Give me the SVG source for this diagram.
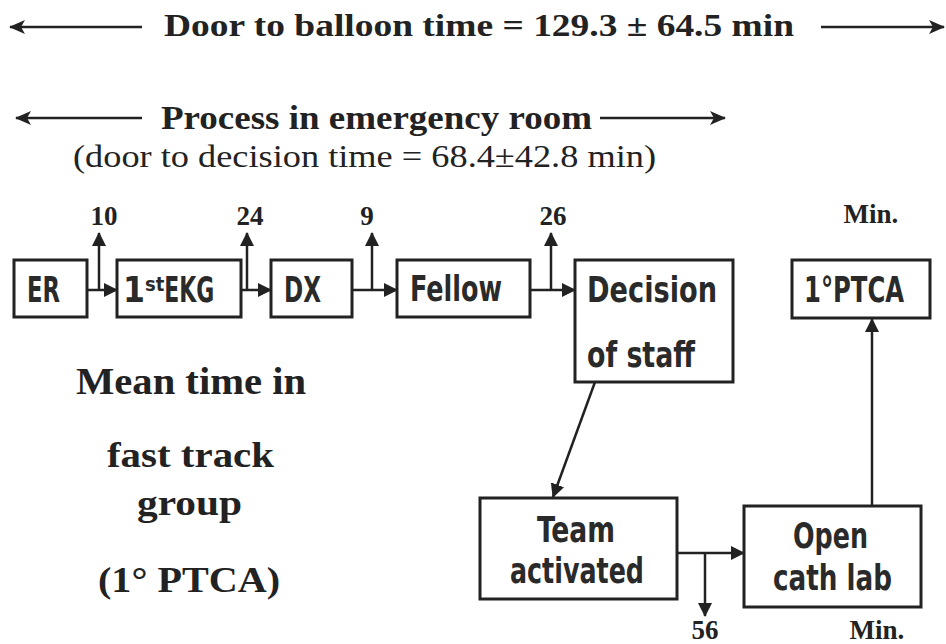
<svg xmlns="http://www.w3.org/2000/svg" width="946" height="644" viewBox="0 0 946 644">
<defs>
<marker id="ah" viewBox="0 0 16 14" refX="15" refY="7" markerWidth="16" markerHeight="14" markerUnits="userSpaceOnUse" orient="auto">
<polygon points="0,0 16,7 0,14 4,7" fill="#222"/>
</marker>
<marker id="ah2" viewBox="0 0 14 14" refX="13" refY="7" markerWidth="14" markerHeight="14" markerUnits="userSpaceOnUse" orient="auto">
<polygon points="0,0 14,7 0,14" fill="#222"/>
</marker>
</defs>
<style>
.ser{font-family:"Liberation Serif","Times New Roman",serif;fill:#222}
.b{font-weight:bold}
.lbl{font-family:"Liberation Sans Narrow","DejaVu Sans Condensed","Liberation Sans",sans-serif;font-weight:bold;font-size:35px;fill:#2a2a2a}
.box{fill:#fff;stroke:#222;stroke-width:3}
.ln{stroke:#222;stroke-width:2.5;fill:none}
.num{font-family:"Liberation Serif","Times New Roman",serif;font-weight:bold;font-size:27px;fill:#222;text-anchor:middle}
</style>
<rect width="946" height="644" fill="#fff"/>

<g id="headers">
<line class="ln" x1="142" y1="27" x2="10" y2="27" marker-end="url(#ah)"/>
<text class="ser b" x="164" y="36" font-size="32" textLength="630" lengthAdjust="spacingAndGlyphs">Door to  balloon time = 129.3 ±  64.5 min</text>
<line class="ln" x1="821" y1="27" x2="944" y2="27" marker-end="url(#ah)"/>
<line class="ln" x1="142" y1="118" x2="16" y2="118" marker-end="url(#ah)"/>
<text class="ser b" x="161" y="129" font-size="34" textLength="431" lengthAdjust="spacingAndGlyphs">Process in emergency room</text>
<line class="ln" x1="600" y1="118" x2="725" y2="118" marker-end="url(#ah)"/>
<text class="ser" x="73" y="167" font-size="32" textLength="583" lengthAdjust="spacingAndGlyphs">(door to decision time = 68.4±42.8 min)</text>
</g>

<g id="side-text">
<text class="ser b" x="76" y="394" font-size="38" textLength="230" lengthAdjust="spacingAndGlyphs">Mean time in</text>
<text class="ser b" x="107" y="467" font-size="36" textLength="167" lengthAdjust="spacingAndGlyphs">fast track</text>
<text class="ser b" x="137" y="515" font-size="36" textLength="105" lengthAdjust="spacingAndGlyphs">group</text>
<text class="ser b" x="98" y="592" font-size="36" textLength="182" lengthAdjust="spacingAndGlyphs">(1° PTCA)</text>
</g>

<g id="connectors">
<line class="ln" x1="77" y1="290" x2="117" y2="290" marker-end="url(#ah2)"/>
<line class="ln" x1="99" y1="290" x2="99" y2="233" marker-end="url(#ah2)"/>
<line class="ln" x1="226" y1="290" x2="271" y2="290" marker-end="url(#ah2)"/>
<line class="ln" x1="247" y1="290" x2="247" y2="233" marker-end="url(#ah2)"/>
<line class="ln" x1="352" y1="290" x2="397" y2="290" marker-end="url(#ah2)"/>
<line class="ln" x1="372" y1="290" x2="372" y2="233" marker-end="url(#ah2)"/>
<line class="ln" x1="530" y1="290" x2="575" y2="290" marker-end="url(#ah2)"/>
<line class="ln" x1="551" y1="290" x2="551" y2="233" marker-end="url(#ah2)"/>
<line class="ln" x1="595" y1="382" x2="553" y2="497" marker-end="url(#ah2)"/>
<line class="ln" x1="677" y1="553" x2="744" y2="553" marker-end="url(#ah2)"/>
<line class="ln" x1="705" y1="553" x2="705" y2="616" marker-end="url(#ah2)"/>
<line class="ln" x1="872" y1="506" x2="872" y2="319" marker-end="url(#ah2)"/>
<text class="num" x="104" y="225">10</text>
<text class="num" x="250" y="225">24</text>
<text class="num" x="367" y="225">9</text>
<text class="num" x="553" y="225">26</text>
<text class="num" x="871" y="223">Min.</text>
<text class="num" x="705" y="639">56</text>
<text class="num" x="877" y="639">Min.</text>
</g>

<g id="er">
<rect class="box" x="14" y="260" width="73" height="57"/>
<text class="lbl" x="27" y="302" textLength="33" lengthAdjust="spacingAndGlyphs">ER</text>
</g>
<g id="ekg">
<rect class="box" x="117" y="260" width="124" height="57"/>
<text class="lbl" x="123" y="302">1<tspan dy="-11" font-size="20">st</tspan><tspan dy="11" textLength="50" lengthAdjust="spacingAndGlyphs">EKG</tspan></text>
</g>
<g id="dx">
<rect class="box" x="271" y="260" width="81" height="57"/>
<text class="lbl" x="284" y="302" textLength="37" lengthAdjust="spacingAndGlyphs">DX</text>
</g>
<g id="fellow">
<rect class="box" x="397" y="260" width="133" height="57"/>
<text class="lbl" x="410" y="301" textLength="92" lengthAdjust="spacingAndGlyphs">Fellow</text>
</g>
<g id="decision">
<rect class="box" x="575" y="260" width="158" height="122"/>
<text class="lbl" x="587" y="302" textLength="130" lengthAdjust="spacingAndGlyphs">Decision</text>
<text class="lbl" x="587" y="367" textLength="108" lengthAdjust="spacingAndGlyphs">of staff</text>
</g>
<g id="ptca">
<rect class="box" x="792" y="260" width="138" height="58"/>
<text class="lbl" x="804" y="302" textLength="100" lengthAdjust="spacingAndGlyphs">1°PTCA</text>
</g>
<g id="team">
<rect class="box" x="480" y="498" width="197" height="101"/>
<text class="lbl" x="537" y="542" textLength="78" lengthAdjust="spacingAndGlyphs">Team</text>
<text class="lbl" x="510" y="583" textLength="134" lengthAdjust="spacingAndGlyphs">activated</text>
</g>
<g id="cathlab">
<rect class="box" x="744" y="506" width="177" height="101"/>
<text class="lbl" x="793" y="548" textLength="75" lengthAdjust="spacingAndGlyphs">Open</text>
<text class="lbl" x="773" y="590" textLength="119" lengthAdjust="spacingAndGlyphs">cath lab</text>
</g>
</svg>
